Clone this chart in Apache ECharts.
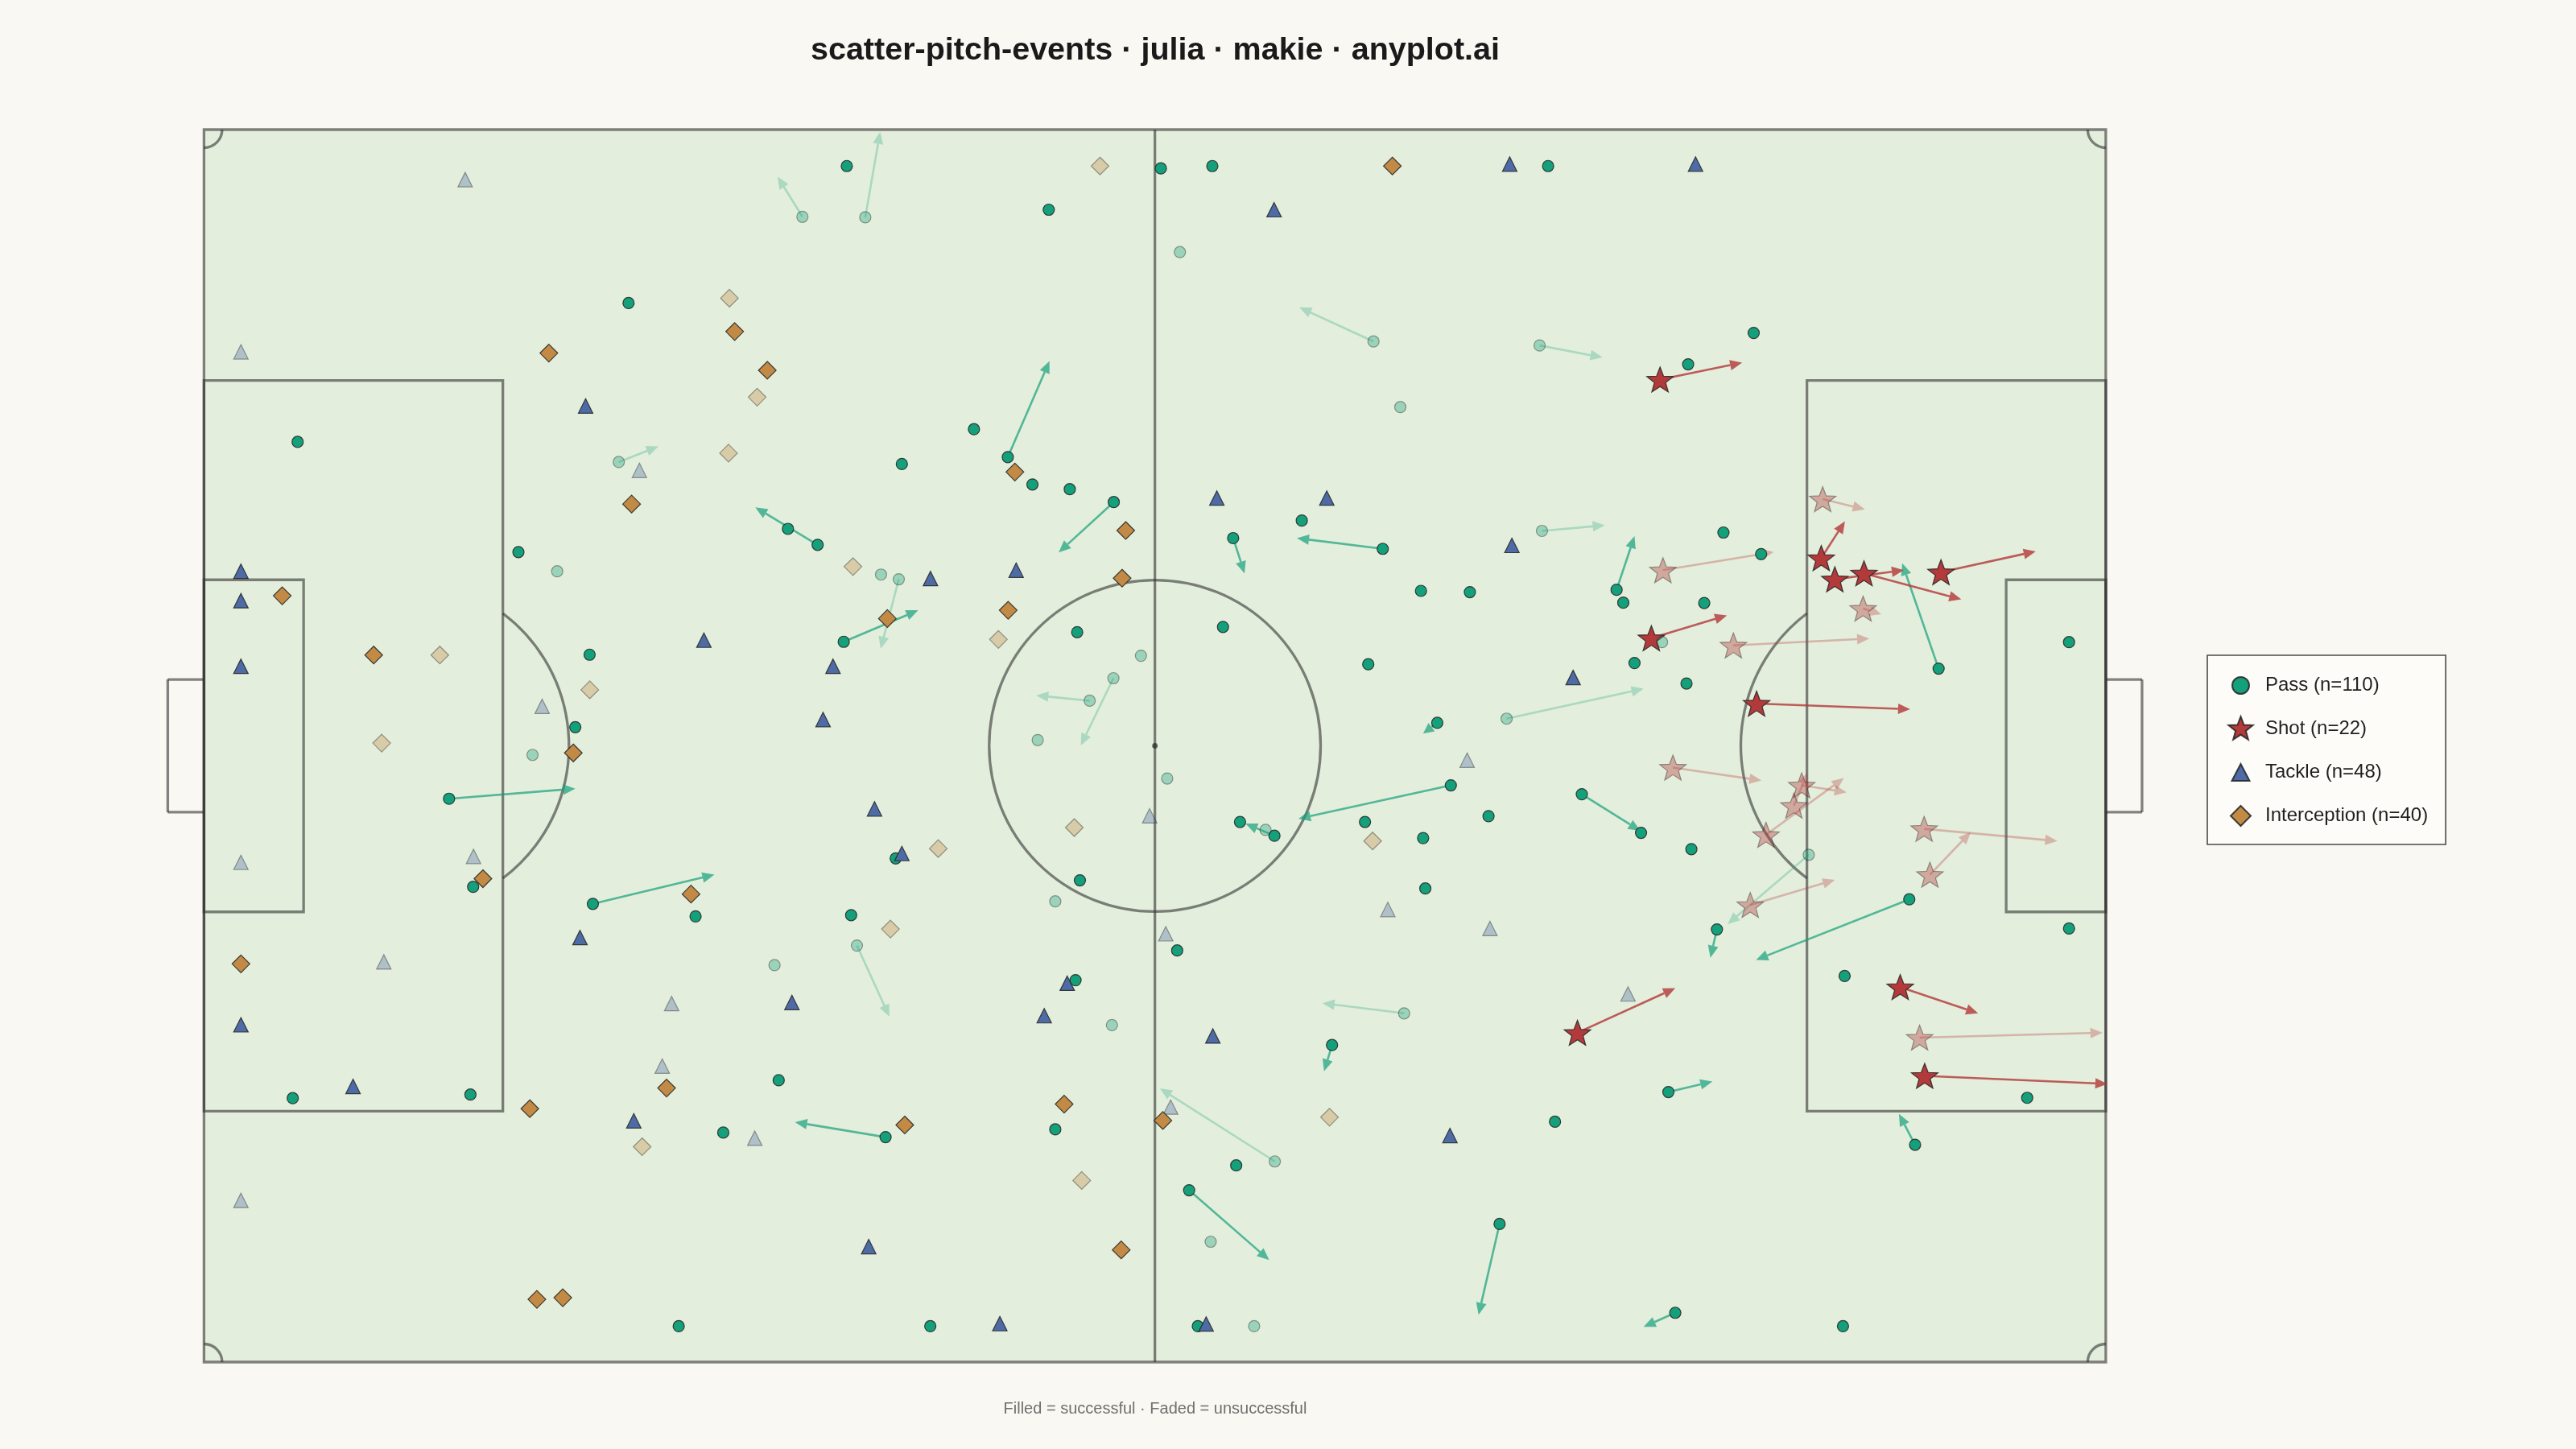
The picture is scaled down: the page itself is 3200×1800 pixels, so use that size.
<!DOCTYPE html>
<html>
<head>
<meta charset="utf-8">
<script src="https://cdn.jsdelivr.net/npm/echarts@6/dist/echarts.min.js"></script>
<style>
html,body{margin:0;padding:0;background:#FAF8F2;}
#chart{width:3200px;height:1800px;}
</style>
</head>
<body>
<div id="chart"></div>
<script>
const _ = null;
// ---------- DATA (metres; x along pitch 0..105, y from top touchline 0..68) ----------
const passX = [23.44,22.90,5.17,17.36,19.50,21.29,20.50,33.04,35.49,36.51,
  46.64,38.53,42.51,44.38,45.74,47.80,50.23,33.88,32.24,37.38,
  38.36,35.32,48.21,51.73,50.21,48.90,46.03,52.83,55.67,74.21,
  53.88,64.57,73.74,66.05,60.61,56.82,65.08,73.87,67.19,69.89,
  77.99,78.36,56.26,64.28,68.09,71.92,85.56,81.94,85.97,83.89,
  82.83,80.50,78.98,81.85,95.77,102.97,18.14,13.53,14.86,21.47,
  4.90,14.71,26.21,38.19,48.36,47.00,27.14,35.73,36.05,31.50,
  48.12,50.13,31.73,28.67,37.63,47.00,40.10,53.18,59.10,58.61,
  57.20,68.84,64.10,67.31,70.92,76.07,67.43,53.73,66.26,62.28,
  59.12,74.59,56.99,54.39,55.58,71.53,54.87,57.98,79.34,82.12,
  88.60,83.53,94.15,102.97,90.58,80.85,100.66,94.47,81.23,90.49];
const passY = [9.57,18.34,17.23,23.31,24.37,28.97,32.97,4.81,2.01,4.84,
  4.42,18.45,16.53,18.07,19.58,19.84,20.55,22.91,22.03,24.55,
  24.81,28.26,27.73,29.03,30.27,31.51,33.68,2.14,2.01,2.01,
  6.76,11.69,11.91,15.31,21.57,22.54,23.13,22.14,25.45,25.52,
  25.39,26.10,27.44,29.50,32.73,32.50,11.22,12.95,23.42,22.23,
  26.12,28.28,29.43,30.56,29.74,28.28,34.50,36.92,41.78,42.72,
  53.44,53.24,66.02,40.21,41.42,42.58,43.41,43.34,45.02,46.10,
  46.93,49.41,52.45,55.34,55.59,55.16,66.02,35.80,38.96,38.64,
  38.20,36.18,38.20,39.09,37.88,36.67,41.87,45.29,48.76,50.51,
  56.93,54.74,57.15,58.52,61.36,60.38,66.02,66.02,38.80,39.70,
  40.01,44.13,42.47,44.08,46.70,53.10,53.42,56.01,65.28,66.02];
const passOK = [1,0,1,1,0,1,1,0,1,0, 1,1,1,1,1,1,1,1,1,0,
  0,1,1,0,0,0,0,1,1,1, 0,0,0,0,1,1,1,0,1,1,
  1,1,1,1,1,0,1,1,1,1, 1,0,1,1,1,1,0,1,1,1,
  1,1,1,1,1,0,1,1,0,0, 1,0,1,1,1,1,1,0,1,0,
  1,1,1,1,1,1,1,1,0,1, 0,1,1,1,0,1,1,0,1,1,
  0,1,1,1,1,1,1,1,1,1];
const passEndX = [_,25.09,_,_,_,_,_,31.67,_,37.33,
  _,_,_,46.68,_,_,47.19,30.44,_,_,
  37.36,39.43,_,_,48.41,45.95,_,_,_,_,
  _,60.48,77.21,_,_,57.45,60.34,77.34,_,_,
  78.98,_,_,_,67.31,79.48,_,_,_,_,
  _,_,_,_,93.76,_,_,20.50,_,28.18,
  _,_,_,_,_,_,_,_,37.84,_,
  _,_,_,_,32.63,_,_,_,57.50,_,
  _,60.43,_,_,_,79.30,_,_,61.75,61.84,
  52.78,_,_,58.81,_,70.37,_,_,_,_,
  84.12,83.17,85.69,_,_,83.28,_,93.58,79.48,_];
const passEndY = [_,17.48,_,_,_,_,_,2.60,_,0.13,
  _,_,_,12.77,_,_,23.33,20.84,_,_,
  28.64,26.52,_,_,33.98,31.22,_,_,_,_,
  _,9.81,12.57,_,_,24.48,22.54,21.83,_,_,
  22.43,_,_,_,33.32,30.85,_,_,_,_,
  _,_,_,_,23.93,_,_,36.36,_,41.11,
  _,_,_,_,_,_,_,_,48.94,_,
  _,_,_,_,54.76,_,_,_,38.29,_,
  _,38.02,_,_,_,38.69,_,_,48.20,51.96,
  52.90,_,_,62.37,_,65.39,_,_,_,_,
  43.84,45.69,45.81,_,_,52.52,_,54.31,66.06,_];

const shotX = [80.39,89.29,90.04,91.65,95.90,79.91,85.72,75.83,93.65,95.00,
  89.37,91.60,80.55,84.44,81.10,88.21,87.78,86.24,85.37,94.97,95.29,94.72];
const shotY = [13.79,23.64,24.81,24.48,24.42,28.06,31.67,49.83,47.31,52.21,
  20.39,26.43,24.31,28.46,35.20,36.18,37.30,38.91,42.78,38.58,41.11,50.10];
const shotOK = [1,1,1,1,1,1,1,1,1,1, 0,0,0,0,0,0,0,0,0,0,0,0];
const shotEndX = [84.92,90.60,93.85,97.02,101.13,84.08,94.20,81.23,97.95,105.09,
  91.70,92.60,86.67,91.94,85.99,90.69,88.54,90.54,90.04,102.32,97.54,104.82];
const shotEndY = [12.86,21.61,24.31,25.92,23.27,26.80,31.98,47.37,48.76,52.65,
  20.95,26.74,23.31,28.08,35.91,36.56,35.47,35.78,41.40,39.25,38.76,49.83];

const tackleX = [14.42,2.04,21.07,24.04,2.04,2.04,2.04,18.67,40.11,44.84,
  27.60,34.73,34.18,72.09,59.08,55.92,61.99,72.21,75.59,82.35,
  2.04,14.88,20.76,9.93,25.82,2.04,8.23,25.30,23.73,2.04,
  37.02,38.53,52.21,32.46,47.66,46.39,30.41,36.70,43.94,69.74,
  65.36,71.00,53.10,55.70,53.37,68.79,55.33,78.62];
const tackleY = [2.76,12.26,15.25,18.80,24.37,25.99,29.61,31.82,24.77,24.31,
  28.17,29.61,32.55,1.90,4.42,20.33,20.33,22.94,30.23,1.90,
  40.43,40.10,44.58,45.92,48.22,49.39,52.79,51.67,54.69,59.08,
  37.48,39.94,37.86,48.16,47.10,48.89,55.65,61.63,65.88,34.79,
  43.03,44.08,44.37,50.01,53.93,55.50,65.90,47.69];
const tackleOK = [0,0,1,0,1,1,1,0,1,1, 1,1,1,1,1,1,1,1,1,1,
  0,0,1,0,0,1,1,0,1,0, 1,1,0,1,1,1,0,1,1,0,
  0,0,0,1,0,1,1,0];

const intX = [19.04,23.61,4.32,9.37,13.02,21.30,9.81,20.39,49.47,29.01,
  29.30,31.10,30.54,28.96,44.77,50.89,50.69,35.83,44.40,43.86,
  37.73,65.61,15.40,2.04,17.99,25.54,24.19,18.38,19.81,40.54,
  48.05,26.89,37.90,38.69,47.49,48.46,50.64,64.52,52.94,62.14];
const intY = [12.33,20.66,25.72,28.99,28.99,30.91,33.85,34.39,2.01,9.30,
  11.14,13.28,14.76,17.85,18.89,22.12,24.75,24.11,26.52,28.13,
  26.98,2.01,41.33,46.03,54.02,52.88,56.12,64.54,64.45,39.67,
  38.51,42.18,44.11,54.92,53.77,57.98,61.81,39.25,54.67,54.49];
const intOK = [1,1,1,1,0,0,0,1,0,0, 1,1,0,0,1,1,1,0,1,0,
  1,1,1,1,1,1,0,1,1,0, 0,1,0,1,1,0,1,0,1,0];

const eventNames = ['Pass', 'Shot', 'Tackle', 'Interception'];
const titleText = 'scatter-pitch-events · julia · makie · anyplot.ai';
const noteText = 'Filled = successful · Faded = unsuccessful';

// ---------- STYLE ----------
const PITCH_L = 105, PITCH_W = 68;
const COL = {pass: [20,160,122], shot: [179,58,58], tackle: [78,107,166], inter: [194,138,69]};
const rgba = (c, a) => `rgba(${c[0]},${c[1]},${c[2]},${a})`;
const LINE = 'rgba(50,50,50,0.6)';
const FONT = '"Liberation Sans", Arial, Helvetica, sans-serif';

function starD(R) {
  let d = '';
  for (let i = 0; i < 10; i++) {
    const r = i % 2 === 0 ? R : R * 0.42;
    const a = -Math.PI / 2 + i * Math.PI / 5;
    d += (i === 0 ? 'M' : 'L') + (r * Math.cos(a)).toFixed(3) + ' ' + (r * Math.sin(a)).toFixed(3) + ' ';
  }
  return d + 'Z';
}
const STAR = 'path://' + starD(1);
// legend icons: padded to a common 31px box so each glyph keeps its own size
const PAD = 'M-15.5 -15.5 M15.5 15.5 ';
const ICON_CIRCLE = 'path://' + PAD + 'M-10.5 0 A10.5 10.5 0 1 0 10.5 0 A10.5 10.5 0 1 0 -10.5 0 Z';
const ICON_STAR = 'path://' + PAD + starD(16.3);
const ICON_TRI = 'path://' + PAD + 'M0 -10.5 L11 10.5 L-11 10.5 Z';
const ICON_DIAM = 'path://' + PAD + 'M0 -12.5 L12.5 0 L0 12.5 L-12.5 0 Z';

function points(xs, ys, ok, col, fadeA) {
  return xs.map((x, i) => ({
    value: [x, ys[i]],
    itemStyle: ok[i] ? {color: rgba(col, 1), borderColor: 'rgba(35,35,35,0.85)'}
                     : {color: rgba(col, fadeA), borderColor: 'rgba(35,35,35,0.42)'}
  }));
}
function arrows(xs, ys, ex, ey, ok) {
  const out = [];
  xs.forEach((x, i) => { if (ex[i] !== null && ey[i] !== null) out.push([x, ys[i], ex[i], ey[i], ok[i]]); });
  return out;
}

function renderPitch(params, api) {
  const p = (x, y) => api.coord([x, y]);
  const k = api.size([1, 1])[0];
  const st = {stroke: LINE, lineWidth: 3.3, fill: null};
  const rect = (x0, y0, x1, y1, style) => {
    const a = p(x0, y0), b = p(x1, y1);
    return {type: 'rect', shape: {x: Math.min(a[0], b[0]), y: Math.min(a[1], b[1]),
      width: Math.abs(b[0] - a[0]), height: Math.abs(b[1] - a[1])}, style: style || st};
  };
  const line = (x0, y0, x1, y1) => {
    const a = p(x0, y0), b = p(x1, y1);
    return {type: 'line', shape: {x1: a[0], y1: a[1], x2: b[0], y2: b[1]}, style: st};
  };
  const arc = (cx, cy, r, a0, a1) => {
    const c = p(cx, cy);
    return {type: 'arc', shape: {cx: c[0], cy: c[1], r: r * k, startAngle: a0, endAngle: a1, clockwise: true}, style: st};
  };
  const L = PITCH_L, W = PITCH_W, mid = W / 2;
  const pa = 40.32 / 2, ga = 18.32 / 2, gw = 7.32 / 2;
  const ang = Math.acos(5.5 / 9.15);
  const PI = Math.PI;
  const c = p(L / 2, mid);
  return {type: 'group', children: [
    rect(0, 0, L, W, {fill: '#E3EEDC', stroke: null}),
    rect(0, 0, L, W),
    line(L / 2, 0, L / 2, W),
    arc(L / 2, mid, 9.15, 0, 2 * PI),
    {type: 'circle', shape: {cx: c[0], cy: c[1], r: 3.4}, style: {fill: 'rgba(45,45,45,0.75)'}},
    rect(0, mid - pa, 16.5, mid + pa),
    rect(L - 16.5, mid - pa, L, mid + pa),
    rect(0, mid - ga, 5.5, mid + ga),
    rect(L - 5.5, mid - ga, L, mid + ga),
    line(0, mid - gw, -2, mid - gw), line(-2, mid - gw, -2, mid + gw), line(-2, mid + gw, 0, mid + gw),
    line(L, mid - gw, L + 2, mid - gw), line(L + 2, mid - gw, L + 2, mid + gw), line(L + 2, mid + gw, L, mid + gw),
    arc(11, mid, 9.15, -ang, ang),
    arc(L - 11, mid, 9.15, PI - ang, PI + ang),
    arc(0, 0, 1, 0, PI / 2),
    arc(L, 0, 1, PI / 2, PI),
    arc(L, W, 1, PI, 1.5 * PI),
    arc(0, W, 1, 1.5 * PI, 2 * PI)
  ]};
}

function arrowRenderer(col, okA, failA) {
  return function (params, api) {
    const a = api.coord([api.value(0), api.value(1)]);
    const b = api.coord([api.value(2), api.value(3)]);
    const ok = api.value(4);
    const dx = b[0] - a[0], dy = b[1] - a[1];
    const len = Math.hypot(dx, dy) || 1;
    const ux = dx / len, uy = dy / len;
    const hl = Math.min(15, len * 0.6), hw = 6.5;
    const bx = b[0] - ux * hl, by = b[1] - uy * hl;
    const c = rgba(col, ok ? okA : failA);
    return {type: 'group', children: [
      {type: 'line', shape: {x1: a[0], y1: a[1], x2: bx, y2: by}, style: {stroke: c, lineWidth: 2.6}},
      {type: 'polygon', shape: {points: [[b[0], b[1]], [bx - uy * hw, by + ux * hw], [bx + uy * hw, by - ux * hw]]},
        style: {fill: c}}
    ]};
  };
}

const names = [
  `${eventNames[0]} (n=${passX.length})`,
  `${eventNames[1]} (n=${shotX.length})`,
  `${eventNames[2]} (n=${tackleX.length})`,
  `${eventNames[3]} (n=${intX.length})`
];

const chart = echarts.init(document.getElementById('chart'), null, {renderer: 'canvas'});
chart.setOption({
  backgroundColor: '#FAF8F2',
  animation: false,
  grid: {left: 253.4, top: 161, width: 2362.5, height: 1531, containLabel: false},
  xAxis: {type: 'value', min: 0, max: PITCH_L, show: false, splitLine: {show: false}},
  yAxis: {type: 'value', min: 0, max: PITCH_W, inverse: true, show: false, splitLine: {show: false}},
  legend: {
    orient: 'vertical', left: 2742, top: 814,
    padding: [21, 22, 19, 25],
    itemWidth: 31, itemHeight: 31, itemGap: 21,
    backgroundColor: '#FDFCF8', borderColor: '#4a4a4a', borderWidth: 1.6, borderRadius: 0,
    selectedMode: false,
    textStyle: {fontSize: 24, color: '#1f1f1f', fontFamily: FONT, padding: [0, 0, 0, 10]},
    data: [
      {name: names[0], icon: ICON_CIRCLE},
      {name: names[1], icon: ICON_STAR},
      {name: names[2], icon: ICON_TRI},
      {name: names[3], icon: ICON_DIAM}
    ]
  },
  graphic: [
    {type: 'text', x: 1435, y: 63, silent: true,
      style: {text: titleText, fontSize: 39.5, fontWeight: 'bold', fontFamily: FONT, fill: '#1a1a1a',
        align: 'center', verticalAlign: 'middle', textAlign: 'center', textVerticalAlign: 'middle'}},
    {type: 'text', x: 1435, y: 1750, silent: true,
      style: {text: noteText, fontSize: 20, fontFamily: FONT, fill: '#707070',
        align: 'center', verticalAlign: 'middle', textAlign: 'center', textVerticalAlign: 'middle'}}
  ],
  series: [
    {type: 'custom', name: 'pitch', silent: true, clip: false, z: 0, data: [[0, 0]], renderItem: renderPitch},
    {type: 'custom', name: 'passArrows', silent: true, clip: false, z: 2,
      data: arrows(passX, passY, passEndX, passEndY, passOK), renderItem: arrowRenderer(COL.pass, 0.7, 0.28)},
    {type: 'custom', name: 'shotArrows', silent: true, clip: false, z: 2,
      data: arrows(shotX, shotY, shotEndX, shotEndY, shotOK), renderItem: arrowRenderer(COL.shot, 0.82, 0.32)},
    {type: 'scatter', name: names[1], silent: true, z: 3, symbol: STAR, symbolSize: [33, 31],
      itemStyle: {color: rgba(COL.shot, 1), borderColor: 'rgba(35,35,35,0.85)', borderWidth: 1.2, opacity: 1},
      data: points(shotX, shotY, shotOK, COL.shot, 0.38)},
    {type: 'scatter', name: names[0], silent: true, z: 4, symbol: 'circle', symbolSize: 14,
      itemStyle: {color: rgba(COL.pass, 1), borderColor: 'rgba(35,35,35,0.85)', borderWidth: 1.2, opacity: 1},
      data: points(passX, passY, passOK, COL.pass, 0.35)},
    {type: 'scatter', name: names[2], silent: true, z: 5, symbol: 'triangle', symbolSize: 18,
      itemStyle: {color: rgba(COL.tackle, 1), borderColor: 'rgba(35,35,35,0.85)', borderWidth: 1.2, opacity: 1},
      data: points(tackleX, tackleY, tackleOK, COL.tackle, 0.35)},
    {type: 'scatter', name: names[3], silent: true, z: 6, symbol: 'diamond', symbolSize: 22,
      itemStyle: {color: rgba(COL.inter, 1), borderColor: 'rgba(35,35,35,0.85)', borderWidth: 1.2, opacity: 1},
      data: points(intX, intY, intOK, COL.inter, 0.35)}
  ]
});
</script>
</body>
</html>
